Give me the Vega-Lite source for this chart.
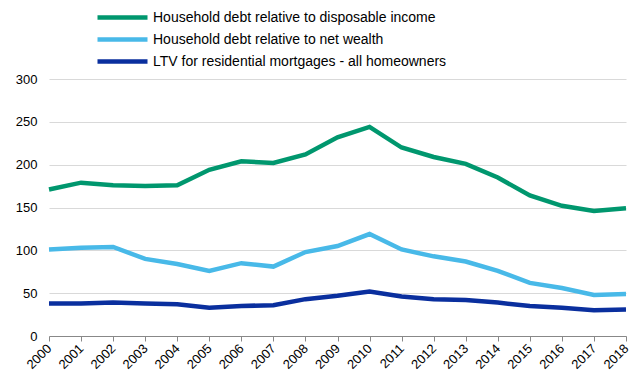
{
  "$schema": "https://vega.github.io/schema/vega-lite/v6.json",
  "width": 577,
  "height": 257,
  "autosize": {"type": "none"},
  "padding": {"left": 49, "top": 79, "right": 3, "bottom": 39},
  "background": "white",
  "config": {
    "view": {"stroke": null},
    "font": "Liberation Sans"
  },
  "datasets": {
    "wide": [
      {"year": "2000", "a": 171, "b": 101, "c": 38},
      {"year": "2001", "a": 179, "b": 103, "c": 38},
      {"year": "2002", "a": 176, "b": 104, "c": 39},
      {"year": "2003", "a": 175, "b": 90, "c": 38},
      {"year": "2004", "a": 176, "b": 84, "c": 37},
      {"year": "2005", "a": 194, "b": 76, "c": 33},
      {"year": "2006", "a": 204, "b": 85, "c": 35},
      {"year": "2007", "a": 202, "b": 81, "c": 36},
      {"year": "2008", "a": 212, "b": 98, "c": 43},
      {"year": "2009", "a": 232, "b": 105, "c": 47},
      {"year": "2010", "a": 244, "b": 119, "c": 52},
      {"year": "2011", "a": 220, "b": 101, "c": 46},
      {"year": "2012", "a": 209, "b": 93, "c": 43},
      {"year": "2013", "a": 201, "b": 87, "c": 42},
      {"year": "2014", "a": 185, "b": 76, "c": 39},
      {"year": "2015", "a": 164, "b": 62, "c": 35},
      {"year": "2016", "a": 152, "b": 56, "c": 33},
      {"year": "2017", "a": 146, "b": 48, "c": 30},
      {"year": "2018", "a": 149, "b": 49, "c": 31}
    ]
  },
  "data": {"name": "wide"},
  "transform": [
    {"fold": ["a", "b", "c"], "as": ["key", "value"]},
    {"lookup": "key", "from": {"data": {"values": [
      {"key": "a", "series": "Household debt relative to disposable income"},
      {"key": "b", "series": "Household debt relative to net wealth"},
      {"key": "c", "series": "LTV for residential mortgages - all homeowners"}
    ]}, "key": "key", "fields": ["series"]}}
  ],
  "mark": {"type": "line", "strokeWidth": 4.5},
  "encoding": {
    "x": {
      "field": "year",
      "type": "ordinal",
      "scale": {"type": "point", "padding": 0},
      "axis": {
        "title": null,
        "labelAngle": -45,
        "labelAlign": "right",
        "labelBaseline": "middle",
        "labelFontSize": 13,
        "labelColor": "#000",
        "domainColor": "#888",
        "tickColor": "#888",
        "tickSize": 5,
        "grid": false,
        "labelPadding": 5,
        "labelDx": -2
      }
    },
    "y": {
      "field": "value",
      "type": "quantitative",
      "scale": {"domain": [0, 300]},
      "axis": {
        "title": null,
        "values": [0, 50, 100, 150, 200, 250, 300],
        "labelFontSize": 13,
        "labelColor": "#000",
        "domain": false,
        "ticks": false,
        "gridColor": "#d9d9d9",
        "labelPadding": 12
      }
    },
    "color": {
      "field": "series",
      "type": "nominal",
      "scale": {
        "domain": [
          "Household debt relative to disposable income",
          "Household debt relative to net wealth",
          "LTV for residential mortgages - all homeowners"
        ],
        "range": ["#00976E", "#48B9E8", "#0A2F9E"]
      },
      "legend": {
        "title": null,
        "orient": "none",
        "legendX": 66,
        "legendY": -69,
        "symbolType": "M-5,0H5",
        "symbolSize": 100,
        "symbolStrokeWidth": 4.5,
        "labelFontSize": 14,
        "labelColor": "#000",
        "labelLimit": 500,
        "rowPadding": 3,
        "labelOffset": 23
      }
    }
  }
}
